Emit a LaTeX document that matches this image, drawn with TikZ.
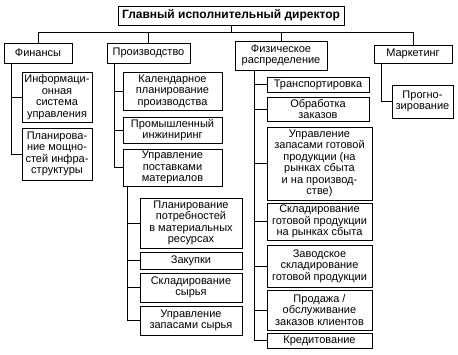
\documentclass[tikz,border=0pt]{standalone}
\usepackage{fontspec}
\setmainfont{Liberation Sans}
\begin{document}
\begin{tikzpicture}[x=1pt,y=-1pt,
  box/.style={draw,line width=0.85pt,inner sep=0pt,align=center,font=\fontsize{11}{11.5}\selectfont},
  conn/.style={line width=0.75pt}]
\useasboundingbox (0,0) rectangle (458,355);
\newcommand\bx[6]{\node[box,minimum width={(#4-#2)*1pt},minimum height={(#5-#3)*1pt}] (#1) at ({(#2+#4)/2},{(#3+#5)/2}) {#6};}
\bx{ceo}{118}{6}{344}{25}{\fontsize{12}{12}\selectfont\textbf{Главный исполнительный директор}}
\bx{fin}{4}{43}{72}{63}{Финансы}
\bx{prod}{107}{43}{190}{63}{Производство}
\bx{phys}{235}{41}{327}{70}{Физическое\\распределение}
\bx{mkt}{374}{45}{452}{63}{Маркетинг}
\bx{info}{22}{72}{92}{122}{Информаци-\\онная\\система\\управления}
\bx{infra}{22}{128}{92}{180}{Планирова-\\ние мощно-\\стей инфра-\\структуры}
\bx{cal}{123}{72}{222}{110}{Календарное\\планирование\\производства}
\bx{eng}{123}{117}{222}{143}{Промышленный\\инжиниринг}
\bx{sup}{123}{149}{222}{186}{Управление\\поставками\\материалов}
\bx{mrp}{140}{198}{242}{248}{Планирование\\потребностей\\в материальных\\ресурсах}
\bx{buy}{140}{252}{242}{269}{Закупки}
\bx{rawst}{140}{273}{242}{302}{Складирование\\сырья}
\bx{rawinv}{140}{306}{242}{335}{Управление\\запасами сырья}
\bx{trans}{267}{77}{369}{92}{Транспортировка}
\bx{ord}{267}{97}{369}{121}{Обработка\\заказов}
\bx{fginv}{267}{127}{372}{200}{Управление\\запасами готовой\\продукции (на\\рынках сбыта\\и на производ-\\стве)}
\bx{fgst}{267}{203}{372}{240}{Складирование\\готовой продукции\\на рынках сбыта}
\bx{plant}{267}{245}{372}{287}{Заводское\\складирование\\готовой продукции}
\bx{sales}{267}{290}{372}{330}{Продажа /\\обслуживание\\заказов клиентов}
\bx{credit}{267}{333}{372}{348}{Кредитование}
\bx{fc}{392}{85}{453}{118}{Прогно-\\зирование}
\coordinate (bus) at (229,32);
\draw[conn] (ceo.south) -- (ceo.south |- bus);
\draw[conn] (fin.north) -- (fin.north |- bus) -- (mkt.north |- bus) -- (mkt.north);
\draw[conn] (prod.north) -- (prod.north |- bus);
\draw[conn] (phys.north) -- (phys.north |- bus);
\foreach \t in {info,infra} \draw[conn] ([xshift=8pt]fin.south west) |- (\t.west);
\foreach \t in {cal,eng,sup} \draw[conn] ([xshift=8pt]prod.south west) |- (\t.west);
\foreach \t in {mrp,buy,rawst,rawinv} \draw[conn] ([xshift=5pt]sup.south west) |- (\t.west);
\foreach \t in {trans,ord,fginv,fgst,plant,sales,credit} \draw[conn] ([xshift=20pt]phys.south west) |- (\t.west);
\draw[conn] ([xshift=8pt]mkt.south west) |- (fc.west);
\end{tikzpicture}
\end{document}
